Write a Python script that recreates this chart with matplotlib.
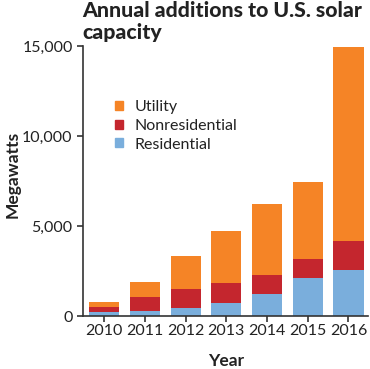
import matplotlib
matplotlib.use("Agg")
import matplotlib.pyplot as plt
from matplotlib.ticker import FuncFormatter
from matplotlib.patches import Patch

years = ["2010", "2011", "2012", "2013", "2014", "2015", "2016"]
residential = [200, 280, 460, 740, 1220, 2130, 2570]
nonresidential = [320, 790, 1060, 1110, 1060, 1040, 1610]
utility = [280, 800, 1800, 2850, 3940, 4270, 10770]

c_util = "#F58426"
c_nonres = "#C4262E"
c_res = "#7AAEDC"

plt.rcParams['font.family'] = ['Lato', 'DejaVu Sans']

fig = plt.figure(figsize=(3.70, 3.69), dpi=100)
ax = fig.add_axes([83/370, 53/369, 285/370, 270/369])

x = list(range(len(years)))
w = 0.74
ax.bar(x, residential, w, color=c_res, label="Residential")
bottom2 = residential
ax.bar(x, nonresidential, w, bottom=bottom2, color=c_nonres, label="Nonresidential")
bottom3 = [a + b for a, b in zip(residential, nonresidential)]
ax.bar(x, utility, w, bottom=bottom3, color=c_util, label="Utility")

ax.set_xlim(-0.52, 6.48)
ax.set_ylim(0, 15000)
ax.set_yticks([0, 5000, 10000, 15000])
ax.yaxis.set_major_formatter(FuncFormatter(lambda v, p: f"{int(v):,}"))
ax.set_xticks(x)
ax.set_xticklabels(years)
for s in ["top", "right"]:
    ax.spines[s].set_visible(False)
for s in ["left", "bottom"]:
    ax.spines[s].set_color("#333333")
    ax.spines[s].set_linewidth(1.2)
ax.tick_params(axis="both", colors="#333333", labelcolor="#222222", labelsize=11.5, length=4, width=1.2)
ax.tick_params(axis="x", pad=2)

fig.text(13/370, 1 - 174.5/369, "Megawatts", fontsize=12.5, fontweight="bold", color="#222222",
         rotation=90, ha="center", va="center")
fig.text(226/370, 1 - 366.5/369, "Year", fontsize=12.5, fontweight="bold", color="#222222",
         ha="center", va="baseline")

fig.text(82/370, 1 - 16.7/369, "Annual additions to U.S. solar", fontsize=15.3,
         fontweight="black", color="#222222", ha="left", va="baseline")
fig.text(82/370, 1 - 39/369, "capacity", fontsize=15.3,
         fontweight="black", color="#222222", ha="left", va="baseline")

handles = [Patch(color=c_util, label="Utility"), Patch(color=c_nonres, label="Nonresidential"),
           Patch(color=c_res, label="Residential")]
ax.legend(handles=handles, loc="upper left", bbox_to_anchor=(115/370, 1 - 100/369),
          bbox_transform=fig.transFigure, frameon=False, borderpad=0, borderaxespad=0,
          fontsize=11.5, handlelength=0.5, handleheight=0.5, handletextpad=0.7, labelspacing=0.3,
          labelcolor="#222222")

fig.savefig("out.png", dpi=100)
